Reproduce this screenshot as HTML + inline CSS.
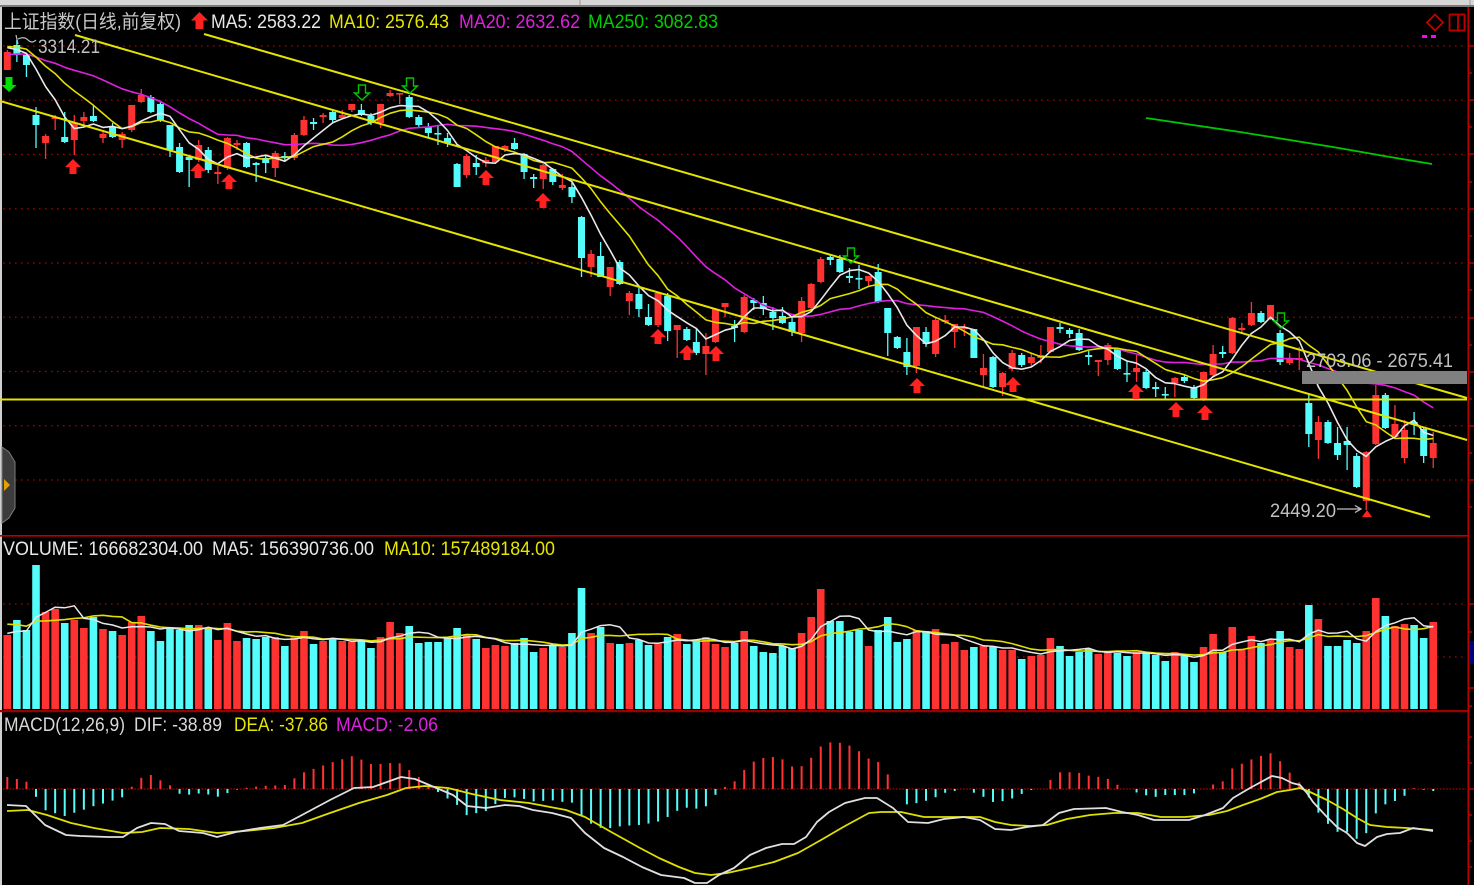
<!DOCTYPE html>
<html><head><meta charset="utf-8">
<style>
html,body{margin:0;padding:0;background:#000;width:1474px;height:885px;overflow:hidden}
svg{display:block}
text{font-family:"Liberation Sans","Noto Sans CJK SC",sans-serif;font-size:19px}
</style></head><body>
<svg id="s" width="1474" height="885" viewBox="0 0 1474 885" xmlns="http://www.w3.org/2000/svg">
<rect width="1474" height="885" fill="#000"/>
<rect x="0" y="0" width="1474" height="5" fill="#d6d6d6"/>
<rect x="0" y="5" width="1474" height="2" fill="#7a7a7a"/>
<line x1="580" y1="0" x2="580" y2="5" stroke="#999"/>
<line x1="1470" y1="0" x2="1470" y2="5" stroke="#999"/>
<rect x="0" y="7" width="2" height="878" fill="#d0d0d0"/>
<g id="g"></g>
<!-- separators -->
<rect x="0" y="535" width="1468" height="1.6" fill="#c00000"/>
<rect x="0" y="710" width="1468" height="2.2" fill="#9a0000"/>
<rect x="1467.5" y="7" width="1.6" height="878" fill="#c00000"/>
<g stroke="#c00000" stroke-width="1.4">
<line x1="1468" y1="46" x2="1474" y2="46"/><line x1="1468" y1="73" x2="1472" y2="73"/>
<line x1="1468" y1="100" x2="1474" y2="100"/><line x1="1468" y1="127" x2="1472" y2="127"/>
<line x1="1468" y1="154" x2="1474" y2="154"/><line x1="1468" y1="182" x2="1472" y2="182"/>
<line x1="1468" y1="209" x2="1474" y2="209"/><line x1="1468" y1="236" x2="1472" y2="236"/>
<line x1="1468" y1="263" x2="1474" y2="263"/><line x1="1468" y1="290" x2="1472" y2="290"/>
<line x1="1468" y1="318" x2="1474" y2="318"/><line x1="1468" y1="345" x2="1472" y2="345"/>
<line x1="1468" y1="372" x2="1474" y2="372"/><line x1="1468" y1="399" x2="1472" y2="399"/>
<line x1="1468" y1="426" x2="1474" y2="426"/><line x1="1468" y1="453" x2="1472" y2="453"/>
<line x1="1468" y1="480" x2="1474" y2="480"/><line x1="1468" y1="507" x2="1472" y2="507"/>
<line x1="1468" y1="604" x2="1474" y2="604"/><line x1="1468" y1="632" x2="1472" y2="632"/>
<line x1="1468" y1="688" x2="1474" y2="688"/><line x1="1468" y1="706" x2="1472" y2="706"/>
<line x1="1468" y1="737" x2="1472" y2="737"/><line x1="1468" y1="763" x2="1472" y2="763"/>
<line x1="1468" y1="789" x2="1474" y2="789"/><line x1="1468" y1="815" x2="1472" y2="815"/>
<line x1="1468" y1="841" x2="1472" y2="841"/><line x1="1468" y1="867" x2="1472" y2="867"/>
</g>
<rect x="1469" y="641" width="5" height="23" fill="#000080"/>
<!-- left tab -->
<polygon points="2,447 9,452 15,462 15,508 9,518 2,523" fill="#3c3c3c" stroke="#7a7a7a" stroke-width="1"/>
<polygon points="4,479 10,485 4,491" fill="#e8a000"/>
<!-- top-right icons -->
<polygon points="1435,14.5 1443,22.5 1435,30.5 1427,22.5" fill="none" stroke="#c00000" stroke-width="1.8"/>
<rect x="1449.5" y="14.5" width="15" height="16" fill="none" stroke="#c00000" stroke-width="1.8"/>
<line x1="1458" y1="14.5" x2="1458" y2="30.5" stroke="#c00000" stroke-width="1.8"/>
<rect x="1422" y="35" width="5" height="3" fill="#ff00ff"/>
<rect x="1431" y="35" width="5" height="3" fill="#ff00ff"/>
<!-- titles -->
<text x="4" y="28" fill="#c8c8c8" textLength="177" lengthAdjust="spacingAndGlyphs">上证指数(日线,前复权)</text>
<polygon points="199.5,12 208,20.5 203.5,20.5 203.5,29 195.5,29 195.5,20.5 191,20.5" fill="#ff2020"/>
<text x="211" y="28" fill="#e8e8e8" textLength="110" lengthAdjust="spacingAndGlyphs">MA5: 2583.22</text>
<text x="329" y="28" fill="#e6e600" textLength="120" lengthAdjust="spacingAndGlyphs">MA10: 2576.43</text>
<text x="459" y="28" fill="#e020e0" textLength="121" lengthAdjust="spacingAndGlyphs">MA20: 2632.62</text>
<text x="588" y="28" fill="#00d000" textLength="130" lengthAdjust="spacingAndGlyphs">MA250: 3082.83</text>
<text x="3" y="555" fill="#e8e8e8" textLength="200" lengthAdjust="spacingAndGlyphs">VOLUME: 166682304.00</text>
<text x="212" y="555" fill="#e8e8e8" textLength="162" lengthAdjust="spacingAndGlyphs">MA5: 156390736.00</text>
<text x="384" y="555" fill="#e6e600" textLength="171" lengthAdjust="spacingAndGlyphs">MA10: 157489184.00</text>
<text x="4" y="731" fill="#d8d8d8" textLength="121" lengthAdjust="spacingAndGlyphs">MACD(12,26,9)</text>
<text x="134" y="731" fill="#d8d8d8" textLength="88" lengthAdjust="spacingAndGlyphs">DIF: -38.89</text>
<text x="234" y="731" fill="#e6e600" textLength="94" lengthAdjust="spacingAndGlyphs">DEA: -37.86</text>
<text x="336" y="731" fill="#e020e0" textLength="102" lengthAdjust="spacingAndGlyphs">MACD: -2.06</text>
<g id="top"></g>
<text x="38" y="53" fill="#c0c0c0" textLength="62" lengthAdjust="spacingAndGlyphs">3314.21</text>
<path d="M16 35 L18 44 M18 39 Q24 36 28 40 Q32 44 36 40" fill="none" stroke="#c0c0c0" stroke-width="1.2"/>
<text x="1306" y="367" fill="#c0c0c0" textLength="147" lengthAdjust="spacingAndGlyphs">2703.06 - 2675.41</text>
<text x="1270" y="517" fill="#c0c0c0" textLength="66" lengthAdjust="spacingAndGlyphs">2449.20</text>
<path d="M1337 509 L1361 509 M1355 505.5 L1361 509 L1355 512.5" fill="none" stroke="#c0c0c0" stroke-width="1.3"/>
<polygon points="1362,517 1367,510 1372,517" fill="#ff2020"/>
</svg>
<script>
(function(){
const NS="http://www.w3.org/2000/svg";
const G=document.getElementById('g'), T=document.getElementById('top');
function el(t,a,p){const e=document.createElementNS(NS,t);for(const k in a)e.setAttribute(k,a[k]);(p||G).appendChild(e);return e;}
const RED="#ff3232",CY="#54fcfc";
const X=i=>7.3+9.57*i;
const D=[[1,52,70,50,70],[0,45,55,40,62],[0,55,65,53,77],[0,115,125,107,148],[1,136,143,134,159],[1,117,119,115,130],[0,137,142,112,143],[1,123,140,115,155],[1,117,121,112,127],[0,116,121,105,122],
[1,134,138,132,143],[0,127,137,123,138],[1,134,140,132,148],[1,105,130,105,132],[1,95,102,89,103],[0,97,112,95,113],[0,104,120,101,122],[0,125,150,125,157],[0,147,172,143,173],[0,157,160,155,187],
[1,145,160,140,162],[0,150,170,147,173],[1,172,174,166,184],[1,138,168,137,170],[1,143,145,140,150],[0,143,167,142,168],[0,163,165,162,182],[0,158,163,156,173],[1,153,168,151,177],[0,156,158,152,162],
[1,135,158,133,160],[1,120,135,116,136],[0,122,124,118,130],[1,115,117,113,123],[0,112,120,109,122],[1,115,118,110,118],[1,104,110,104,112],[0,110,115,104,116],[0,116,123,113,125],[1,104,123,104,128],
[1,93,96,90,97],[1,93,94,93,104],[0,97,117,95,118],[0,117,125,115,127],[0,127,133,123,137],[0,133,134,126,145],[0,138,143,133,147],[0,164,187,163,187],[1,156,175,154,178],[0,163,167,155,175],
[1,160,163,157,167],[1,146,162,146,163],[1,146,150,145,152],[0,143,149,138,150],[0,154,172,153,179],[0,177,179,174,188],[1,165,179,164,189],[0,169,182,168,185],[1,185,188,174,190],[0,187,197,182,203],
[0,217,258,216,277],[1,254,267,250,277],[0,256,277,242,277],[1,267,287,267,296],[0,262,284,260,285],[1,293,301,291,315],[0,294,309,288,317],[0,317,325,304,326],[1,293,325,292,327],[0,296,331,293,341],
[1,325,330,325,358],[0,329,340,327,341],[0,342,353,329,355],[1,346,354,333,375],[1,309,342,308,343],[1,303,307,303,317],[0,326,328,320,342],[1,297,332,295,333],[0,300,303,298,310],[0,303,309,296,315],
[0,312,318,307,330],[0,316,323,307,324],[0,322,332,317,336],[1,301,333,297,342],[1,284,308,283,310],[1,259,282,257,283],[0,257,260,255,265],[0,259,272,255,273],[0,276,278,268,283],[0,278,279,265,289],
[1,276,281,276,286],[0,272,302,264,303],[0,308,333,308,356],[0,337,348,336,349],[0,352,367,338,375],[1,327,366,327,373],[0,332,344,327,347],[1,320,354,317,357],[1,320,322,315,324],[1,324,332,324,348],
[1,327,329,324,336],[0,329,358,329,358],[1,368,375,354,387],[0,357,387,356,388],[1,373,387,372,396],[1,353,369,350,371],[0,355,365,353,367],[1,357,363,353,367],[1,355,358,345,363],[1,327,352,327,353],
[0,327,329,323,333],[0,330,334,328,338],[0,333,350,329,351],[0,355,357,351,365],[1,360,362,360,376],[1,345,360,343,365],[0,349,369,348,370],[0,373,374,361,382],[1,368,372,355,382],[0,372,388,370,389],
[0,387,389,382,397],[0,394,395,387,400],[1,378,383,377,397],[0,377,381,375,383],[0,387,398,385,399],[1,372,400,372,401],[1,354,375,345,377],[0,352,354,346,358],[1,318,353,317,354],[1,328,330,323,333],
[1,313,325,302,326],[0,313,322,311,323],[1,305,319,305,320],[0,333,362,330,365],[1,358,363,353,365],[1,358,360,347,370],[0,403,434,393,447],[1,422,440,416,459],[0,422,443,420,444],[0,443,455,427,460],
[0,441,445,427,470],[0,456,487,453,488],[1,452,501,451,510],[1,395,444,385,445],[0,395,428,393,429],[1,424,437,405,437],[1,430,458,420,463],[0,422,424,412,435],[0,429,456,427,463],[1,443,458,432,468]];
const N=D.length;
const V=[635,620,630,565,612,609,623,620,628,617,629,631,635,622,616,631,641,628,630,625,
625,628,640,623,641,638,639,637,637,646,636,631,644,641,639,641,642,641,648,637,
622,633,626,643,642,642,638,628,635,639,648,645,646,643,638,652,648,645,647,633,
588,633,627,643,644,643,640,645,644,637,634,644,640,637,644,647,643,631,646,652,
653,646,648,633,617,589,621,621,632,630,646,630,617,642,639,630,631,629,644,642,
650,647,646,647,650,650,659,656,655,638,646,656,652,649,654,651,653,656,652,653,
655,661,652,656,662,647,634,652,627,650,636,643,639,631,647,649,605,619,646,646,
640,643,631,598,616,626,624,625,638,622];
function pl(pts,color,w,p){el('polyline',{points:pts.map(q=>q[0].toFixed(1)+','+q[1].toFixed(1)).join(' '),fill:'none',stroke:color,'stroke-width':w||1.3,'stroke-linejoin':'round'},p);}
// grid
for(let k=0;k<9;k++){const y=46+54.25*k;el('line',{x1:3,y1:y,x2:1466,y2:y,stroke:'#b00000','stroke-width':1.3,'stroke-dasharray':'1.6 4.4'});}
[604,657].forEach(y=>el('line',{x1:3,y1:y,x2:1466,y2:y,stroke:'#b00000','stroke-width':1.3,'stroke-dasharray':'1.6 4.4'}));
el('line',{x1:3,y1:789,x2:1466,y2:789,stroke:'#b00000','stroke-width':1.3,'stroke-dasharray':'1.6 1.6'});
// candles
D.forEach((d,i)=>{const x=X(i),c=d[0]?RED:CY;
 el('line',{x1:x,y1:d[3],x2:x,y2:d[4],stroke:c,'stroke-width':1.3});
 el('rect',{x:x-3.5,y:d[1],width:7,height:Math.max(d[2]-d[1],1.6),fill:c});});
// MAs
const P=[62,64,66,66,64,63,62,62,64,65,50,48,46,45,44,44,45,46,47,48];
const all=P.concat(D.map(d=>d[0]?d[1]:d[2]));
function ma(arr,n,off){const r=[];for(let i=0;i<N;i++){let s=0;for(let k=0;k<n;k++)s+=arr[off+i-k];r.push([X(i),s/n]);}return r;}
pl(ma(all,20,20),'#e020e0',1.6);
pl(ma(all,10,20),'#e0e000',1.6);
pl(ma(all,5,20),'#e8e8e8',1.6);
// MA250
pl([[1146,118],[1240,132],[1333,147],[1390,157],[1432,164]],'#00c800',1.8);
// channel lines
const LC='#e4e400';
el('line',{x1:204,y1:34,x2:1467,y2:398,stroke:LC,'stroke-width':2});
el('line',{x1:75,y1:35,x2:1467,y2:440,stroke:LC,'stroke-width':2});
el('line',{x1:0,y1:101,x2:1430,y2:517,stroke:LC,'stroke-width':2});
el('line',{x1:0,y1:399.5,x2:1467,y2:399.5,stroke:LC,'stroke-width':2});
// gray band
el('rect',{x:1302,y:371,width:165,height:13,fill:'#808080'});
// volume
V.forEach((v,i)=>{const x=X(i);el('rect',{x:x-3.8,y:v,width:7.6,height:709-v,fill:D[i][0]?RED:CY});});
const VP=[615,615,615,615,615,615,630,632,634,636].concat(V);
pl(ma(VP,10,10),'#e0e000',1.6);
pl(ma(VP,5,10),'#e8e8e8',1.5);
// MACD
const DIF=[[7,805],[26,806],[45,825],[66,835],[80,836],[108,837],[123,837],[137,828],[151,823],[165,824],[179,831],[203,833],[217,837],[236,832],[260,828],[283,825],[302,815],[330,800],[354,788],[373,787],[387,782],[401,777],[415,779],[434,787],[453,795],[467,806],[486,808],[505,805],[519,806],[533,810],[552,813],[571,818],[585,833],[604,848],[623,857],[642,867],[661,875],[684,878],[695,883],[707,883],[719,875],[734,868],[750,855],[766,848],[782,844],[794,844],[806,837],[817,822],[829,812],[845,803],[865,798],[877,798],[893,808],[908,822],[928,823],[944,819],[964,817],[980,820],[995,829],[1011,830],[1027,827],[1043,825],[1059,813],[1074,809],[1106,808],[1122,812],[1138,815],[1154,820],[1169,820],[1189,820],[1205,815],[1223,808],[1233,798],[1250,788],[1272,776],[1282,778],[1292,783],[1300,785],[1307,793],[1313,802],[1327,817],[1337,827],[1347,833],[1357,843],[1365,846],[1377,837],[1387,834],[1400,833],[1413,828],[1433,831]];
const DEA=[[7,811],[28,810],[47,815],[71,823],[94,828],[123,833],[142,832],[160,828],[189,829],[217,833],[245,831],[274,828],[302,823],[330,813],[359,803],[387,795],[406,788],[425,786],[448,788],[472,794],[500,800],[529,803],[566,810],[585,817],[613,833],[640,848],[659,858],[679,867],[695,873],[711,875],[727,873],[750,868],[774,862],[798,853],[821,840],[845,826],[869,813],[881,812],[901,812],[924,817],[956,817],[980,817],[995,822],[1011,825],[1031,826],[1047,825],[1067,819],[1090,815],[1114,813],[1138,813],[1161,817],[1185,817],[1209,815],[1227,811],[1243,805],[1260,799],[1277,792],[1290,790],[1300,788],[1310,792],[1327,800],[1343,809],[1357,818],[1370,825],[1387,827],[1407,828],[1433,830]];
function interp(a,x){if(x<=a[0][0])return a[0][1];for(let k=1;k<a.length;k++){if(x<=a[k][0]){const t=(x-a[k-1][0])/(a[k][0]-a[k-1][0]);return a[k-1][1]+t*(a[k][1]-a[k-1][1]);}}return a[a.length-1][1];}
for(let i=0;i<N;i++){const x=X(i);const v=2*(interp(DEA,x)-interp(DIF,x));
 if(Math.abs(v)<0.4)continue;
 el('rect',{x:x-1,y:v>0?789-v:789,width:2,height:Math.abs(v),fill:v>0?RED:CY});}
pl(DEA,'#e0e000',1.8);
pl(DIF,'#e0e0e0',1.8);
// markers
function up(cx,ty,c){el('polygon',{points:[[cx,ty],[cx+8,ty+8],[cx+3.5,ty+8],[cx+3.5,ty+15],[cx-3.5,ty+15],[cx-3.5,ty+8],[cx-8,ty+8]].map(p=>p.join(',')).join(' '),fill:c},T);}
function down(cx,ty,c,hollow){el('polygon',{points:[[cx-3.5,ty],[cx+3.5,ty],[cx+3.5,ty+8],[cx+7.5,ty+8],[cx,ty+15],[cx-7.5,ty+8],[cx-3.5,ty+8]].map(p=>p.join(',')).join(' '),fill:hollow?'none':c,stroke:c,'stroke-width':hollow?1.4:0},T);}
[[73,159],[198,163],[229,174],[486,170],[543,193],[658,329],[687,345],[716,346],[917,378],[1013,377],[1136,384],[1176,402],[1205,405]].forEach(p=>up(p[0],p[1],'#ff2020'));
down(9,77,'#00e000',false);
[[362,85],[410,78],[851,248],[1281,313]].forEach(p=>down(p[0],p[1],'#00c800',true));
})();
</script>
</body></html>
